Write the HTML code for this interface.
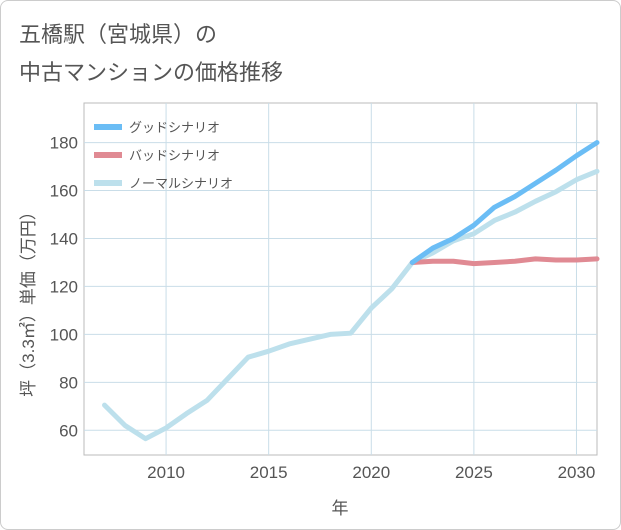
<!DOCTYPE html>
<html><head><meta charset="utf-8"><style>
body{margin:0;background:#fff;font-family:"Liberation Sans","Noto Sans CJK JP",sans-serif}
#wrap{position:relative;width:619px;height:528px;border:1px solid #ccc;border-radius:8px;overflow:hidden}
.title{position:absolute;left:18px;font-size:22px;color:#555}
</style></head><body>
<div id="wrap">
<div class="title" style="top:16px">五橋駅（宮城県）の</div>
<div class="title" style="top:54px">中古マンションの価格推移</div>
<svg id="chart" width="621" height="530" style="position:absolute;left:-1px;top:-1px"></svg>
</div>
<script>
const years=[2007,2008,2009,2010,2011,2012,2013,2014,2015,2016,2017,2018,2019,2020,2021,2022,2023,2024,2025,2026,2027,2028,2029,2030,2031];
const normalVals=[70.5,62,56.5,61,67,72.5,81.5,90.5,93,96,98,100,100.5,111,119,130,134,139,142,147.5,151,155.5,159.5,164.5,168];
const goodYears=[2022,2023,2024,2025,2026,2027,2028,2029,2030,2031];
const goodVals=[130,136,140,145.5,153,157.5,163,168.5,174.5,180];
const badVals=[130,130.5,130.5,129.5,130,130.5,131.5,131,131,131.5];
const yTicks=[60,80,100,120,140,160,180];
const xTicks=[2010,2015,2020,2025,2030];
const legendLabels=["グッドシナリオ","バッドシナリオ","ノーマルシナリオ"];
const colors=["#6bbdf5","#e08a93","#bde0ec"];
const L=84,R=597,T=103,B=455,x0=2006,x1=2031,y0=49.7,y1=196.5;
const sx=v=>L+(v-x0)/(x1-x0)*(R-L);
const sy=v=>B-(v-y0)/(y1-y0)*(B-T);
const svg=document.getElementById('chart');const NS='http://www.w3.org/2000/svg';
function mk(t,a,p){const e=document.createElementNS(NS,t);for(const k in a)e.setAttribute(k,a[k]);(p||svg).appendChild(e);return e;}
let e;
e=mk('rect',{x:L,y:T,width:R-L,height:B-T,fill:'#fff',stroke:'#bbb'});


yTicks.forEach(v=>{e=mk('line',{x1:L,x2:R,y1:sy(v),y2:sy(v),stroke:'#c9dde8'});


e=mk('text',{x:L-6,y:sy(v)+6,'text-anchor':'end','font-size':17,fill:'#555'});e.textContent=v;

});
xTicks.forEach(v=>{e=mk('line',{x1:sx(v),x2:sx(v),y1:T,y2:B,stroke:'#c9dde8'});


e=mk('text',{x:sx(v),y:B+23,'text-anchor':'middle','font-size':17,fill:'#555'});e.textContent=v;

});
e=mk('text',{x:340,y:514,'text-anchor':'middle','font-size':17,fill:'#555'});e.textContent='年';


e=mk('text',{x:0,y:0,'text-anchor':'middle','font-size':17,fill:'#555',transform:'translate(34,300) rotate(-90)'});e.textContent='坪（3.3㎡）単価（万円）';


function line(xs,vs,c,name){const d=xs.map((x,i)=>(i?'L':'M')+sx(x)+','+sy(vs[i])).join('');
const p=mk('path',{d:d,fill:'none',stroke:c,'stroke-width':5,'stroke-linejoin':'round','stroke-linecap':'round'});

}
line(years,normalVals,colors[2],'normal-scenario-line');
line(goodYears,badVals,colors[1],'bad-scenario-line');
line(goodYears,goodVals,colors[0],'good-scenario-line');
legendLabels.forEach((t,i)=>{const y=127+i*28;
e=mk('line',{x1:94,x2:122,y1:y,y2:y,stroke:colors[i],'stroke-width':6});


e=mk('text',{x:129,y:y+5,'font-size':13,fill:'#555'});e.textContent=t;

});
</script>
</body></html>
